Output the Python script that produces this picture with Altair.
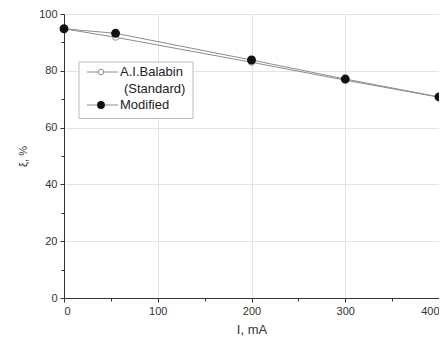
import altair as alt
import pandas as pd

I_mA = [0, 55, 200, 300, 400]
standard = [94.8, 91.8, 83.0, 76.7, 70.7]
modified = [94.8, 93.2, 83.8, 77.1, 70.8]

df_s = pd.DataFrame({"I": I_mA, "xi": standard})
df_m = pd.DataFrame({"I": I_mA, "xi": modified})

LINE = "#8c8c8c"
AX = "#333333"
FONT = "Liberation Sans"

x_axis = alt.Axis(
    values=list(range(0, 401, 50)),
    labelExpr="datum.value % 100 == 0 ? datum.label : ''",
    tickSize={"condition": {"test": "datum.value % 100 == 0", "value": 4}, "value": 3},
    gridOpacity={"condition": {"test": "datum.value % 100 == 0", "value": 1}, "value": 0},
    grid=True, gridColor="#e3e3e3", domainColor=AX, tickColor=AX,
    labelColor=AX, labelFontSize=11, labelFont=FONT, labelPadding=3,
    title="I, mA", titleFont=FONT, titleFontSize=13, titleFontWeight="normal",
    titleColor=AX, titlePadding=7,
)
y_axis = alt.Axis(
    values=list(range(0, 101, 10)),
    labelExpr="datum.value % 20 == 0 ? datum.label : ''",
    tickSize={"condition": {"test": "datum.value % 20 == 0", "value": 4}, "value": 3},
    gridOpacity={"condition": {"test": "datum.value % 20 == 0", "value": 1}, "value": 0},
    grid=True, gridColor="#e3e3e3", domainColor=AX, tickColor=AX,
    labelColor=AX, labelFontSize=11, labelFont=FONT, labelPadding=3,
    title="ξ, %", titleFont=FONT, titleFontSize=11, titleFontWeight="normal",
    titleColor=AX, titlePadding=10,
)

xs = alt.Scale(domain=[0, 400], nice=False, zero=False)
ys = alt.Scale(domain=[0, 100], nice=False)

def series(df, filled):
    base = alt.Chart(df).encode(
        x=alt.X("I:Q", scale=xs, axis=x_axis),
        y=alt.Y("xi:Q", scale=ys, axis=y_axis),
    )
    line = base.mark_line(color=LINE, strokeWidth=1)
    if filled:
        pts = base.mark_point(shape="circle", filled=True, fill="#111111",
                              stroke="#111111", size=48, opacity=1)
    else:
        pts = base.mark_point(shape="circle", filled=True, fill="white",
                              stroke=LINE, strokeWidth=1, size=36, opacity=1)
    return line + pts

one = alt.Data(values=[{"a": 1}])

leg_box = alt.Chart(one).mark_rect(fill="white", stroke="#bdbdbd", strokeWidth=1).encode(
    x=alt.value(15), x2=alt.value(129), y=alt.value(48), y2=alt.value(104.5))
leg_l1 = alt.Chart(one).mark_rule(color=LINE, strokeWidth=1).encode(
    x=alt.value(23), x2=alt.value(54), y=alt.value(58))
leg_l2 = alt.Chart(one).mark_rule(color=LINE, strokeWidth=1).encode(
    x=alt.value(23), x2=alt.value(54), y=alt.value(91))
leg_p1 = alt.Chart(one).mark_point(shape="circle", filled=True, fill="white",
                                   stroke=LINE, strokeWidth=1, size=30, opacity=1).encode(
    x=alt.value(37), y=alt.value(58))
leg_p2 = alt.Chart(one).mark_point(shape="circle", filled=True, fill="#111111",
                                   stroke="#111111", size=34, opacity=1).encode(
    x=alt.value(37), y=alt.value(91))
tstyle = dict(align="left", baseline="middle", font=FONT, fontSize=13, color="#222222")
leg_t1 = alt.Chart(one).mark_text(**tstyle).encode(
    x=alt.value(56), y=alt.value(58), text=alt.value("A.I.Balabin"))
leg_t2 = alt.Chart(one).mark_text(**tstyle).encode(
    x=alt.value(60), y=alt.value(75), text=alt.value("(Standard)"))
leg_t3 = alt.Chart(one).mark_text(**tstyle).encode(
    x=alt.value(56), y=alt.value(91), text=alt.value("Modified"))

chart = alt.layer(
    series(df_s, False), series(df_m, True),
    leg_box, leg_l1, leg_l2, leg_p1, leg_p2, leg_t1, leg_t2, leg_t3,
).properties(
    width=375, height=284,
    autosize=alt.AutoSizeParams(type="none"),
    padding={"left": 56, "top": 6, "right": 0, "bottom": 39},
).configure_view(stroke=None).configure(background="white")

chart.save("out.html", embed_options={"renderer": "svg", "actions": False})
